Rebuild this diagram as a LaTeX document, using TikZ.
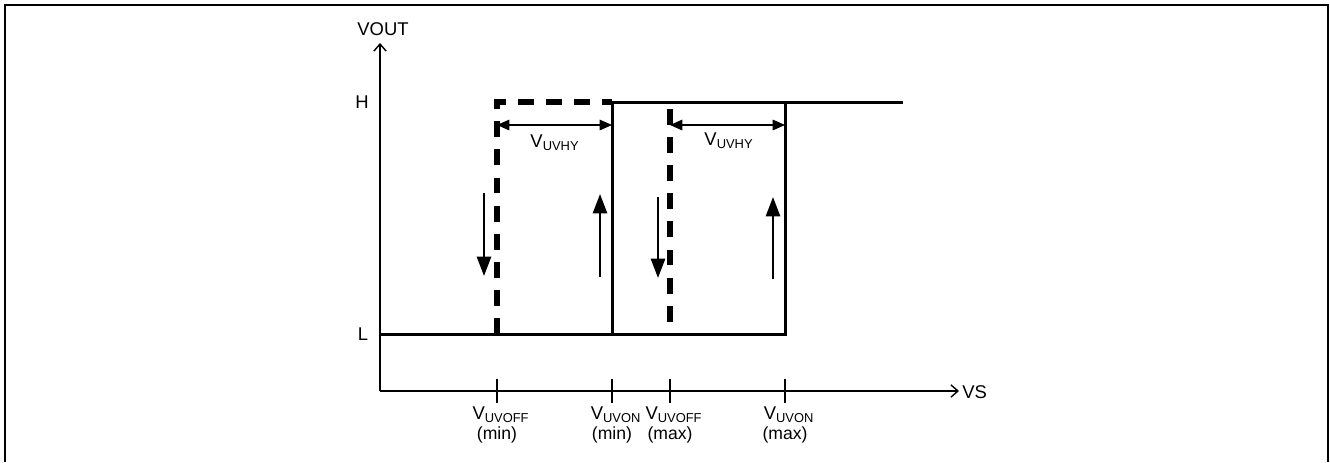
\documentclass[tikz,border=0pt]{standalone}
\usepackage{fontspec}
\setmainfont{Liberation Sans}
\usepackage{tikz}
\usetikzlibrary{arrows.meta, positioning, calc}

\tikzset{
	axis/.style={line width=0.8pt, -{Straight Barb[length=4pt, width=7pt]}},
	curve/.style={line width=1.7pt},
	dcurve/.style={line width=3.2pt, dash pattern=on 9pt off 7pt},
	dimline/.style={line width=0.7pt, {Triangle[length=7pt, width=6pt]}-{Triangle[length=7pt, width=6pt]}},
	dirarrow/.style={line width=1.4pt, -{Triangle[length=11pt, width=8pt]}},
	lbl/.style={inner sep=0pt, font=\fontsize{10.5}{12}\selectfont},
	sublbl/.style={inner sep=0pt, font=\fontsize{10}{11}\selectfont}
}

\begin{document}
\begin{tikzpicture}[x=0.2mm, y=-0.2mm]
	\useasboundingbox (0,0) rectangle (1330,462);
	% frame
	\draw [line width=0.9pt] (5,462) -- (5,5) -- (1328,5) -- (1328,462);
	
	% axes
	\coordinate (O) at (380,391);
	\coordinate (ytip) at (380,43);
	\coordinate (xtip) at (959,391);
	\draw [axis] (O) -- (ytip);
	\draw [axis] (O) -- (xtip);
	\node [lbl] (vout) at (383,29) {VOUT};
	\node [lbl, anchor=west] (vs) at (962,392) {VS};
	\node [lbl] (hl) at (362,102) {H};
	\node [lbl] (ll) at (363,334) {L};
	
	% ticks and labels
	\foreach \x/\name/\sub/\lim in {497/a/UVOFF/min, 612/b/UVON/min, 670/c/UVOFF/max, 785/d/UVON/max}
	{
		\draw [line width=0.8pt] (\x,379) -- (\x,403);
		\node [lbl] (t\name) at (\x+4,415) {V\textsubscript{\sub}};
		\node [sublbl] (m\name) at (\x,435) {(\lim)};
	}
	
	% levels
	\coordinate (L0) at (380,334);
	\coordinate (L1) at (497,334);
	\coordinate (L2) at (612,334);
	\coordinate (L3) at (670,334);
	\coordinate (L4) at (785,334);
	\coordinate (H1) at (497,102);
	\coordinate (H2) at (612,102);
	\coordinate (H3) at (670,109);
	\coordinate (H4) at (785,102);
	\coordinate (H5) at (903,102);
	
	% solid curve
	\draw [curve] (L0) -- (L4) -- (H4);
	\draw [curve] (L2) -- (H2) -- (H5);
	
	% dashed curve
	\draw [dcurve] (L1) -- (H1) -- (H2);
	\draw [dcurve] (H3) -- (L3);
	
	% hysteresis
	\coordinate (d1) at (497,125);
	\coordinate (d2) at (612,125);
	\coordinate (d3) at (670,125);
	\coordinate (d4) at (785,125);
	\draw [dimline] (d1) -- (d2);
	\draw [dimline] (d3) -- (d4);
	\node [lbl] (hy1) at (555,143) {V\textsubscript{UVHY}};
	\node [lbl] (hy2) at (729,141) {V\textsubscript{UVHY}};
	
	% direction arrows
	\draw [dirarrow] (484,193) -- (484,276);
	\draw [dirarrow] (600,277) -- (600,194);
	\draw [dirarrow] (658,197) -- (658,278);
	\draw [dirarrow] (773,279) -- (773,197);
\end{tikzpicture}
\end{document}
